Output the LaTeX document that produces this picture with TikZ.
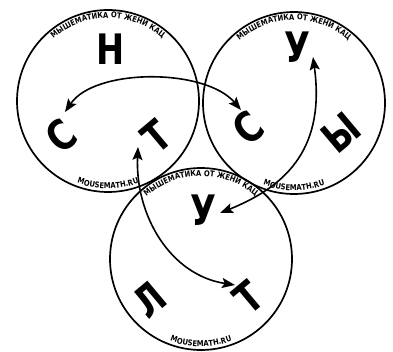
\documentclass[tikz,border=0pt]{standalone}
\usepackage{fontspec}
\setmainfont{Liberation Sans}
\newfontfamily\bigfont[FakeStretch=0.8]{DejaVu Sans}
\newfontfamily\smallfont[FakeStretch=0.85]{DejaVu Sans}
\usetikzlibrary{arrows.meta,decorations.text}
\begin{document}
\begin{tikzpicture}[x=1pt,y=1pt,
  ring/.style={line width=1.7pt},
  link/.style={line width=1.6pt, {Stealth[length=13pt,width=10pt,inset=2.5pt]}-{Stealth[length=13pt,width=10pt,inset=2.5pt]}},
  letter/.style={font=\bigfont\bfseries\fontsize{42}{42}\selectfont, inner sep=0pt},
  tilt/.style={letter, rotate=40},
  toptext/.style={decorate, decoration={text along path, text align=center,
     text={|\smallfont\bfseries\fontsize{8}{8}\selectfont|МЫШЕМАТИКА ОТ ЖЕНИ КАЦ}}},
  bottext/.style={decorate, decoration={text along path, text align=center,
     text={|\smallfont\bfseries\fontsize{8}{8}\selectfont|MOUSEMATH.RU}}}]
\useasboundingbox (0,0) rectangle (393,351);
\coordinate (c1) at (108,250);
\coordinate (c2) at (294,248);
\coordinate (c3) at (201,92);
\foreach \c in {c1,c2,c3}{
  \draw[ring] (\c) circle[radius=91];
  \path[toptext] (\c) ++(130:83) arc[start angle=130, end angle=50, radius=83];
  \path[bottext] (\c) ++(240:87.5) arc[start angle=240, end angle=300, radius=87.5];
}
\node[letter] (n1) at (111,302) {Н};
\node[tilt] (s1) at (61,215) {С};
\node[tilt] (t1) at (156,215) {Т};
\node[letter] (u2) at (297,304) {У};
\node[tilt] (s2) at (248,223) {С};
\node[tilt] (y2) at (341,218) {Ы};
\node[letter] (u3) at (203,141) {У};
\node[tilt] (l3) at (149,51) {Л};
\node[tilt] (t3) at (248,54) {Т};
\coordinate (a1s) at (65,239);
\coordinate (a1e) at (241,241);
\coordinate (a2s) at (138,204);
\coordinate (a2e) at (235,66);
\coordinate (a3s) at (313,294);
\coordinate (a3e) at (220,138);
\draw[link] (a1s) .. controls (95,283) and (205,283) .. (a1e);
\draw[link] (a2s) .. controls (135,136) and (170,76) .. (a2e);
\draw[link] (a3s) .. controls (325,206) and (290,166) .. (a3e);
\end{tikzpicture}
\end{document}
